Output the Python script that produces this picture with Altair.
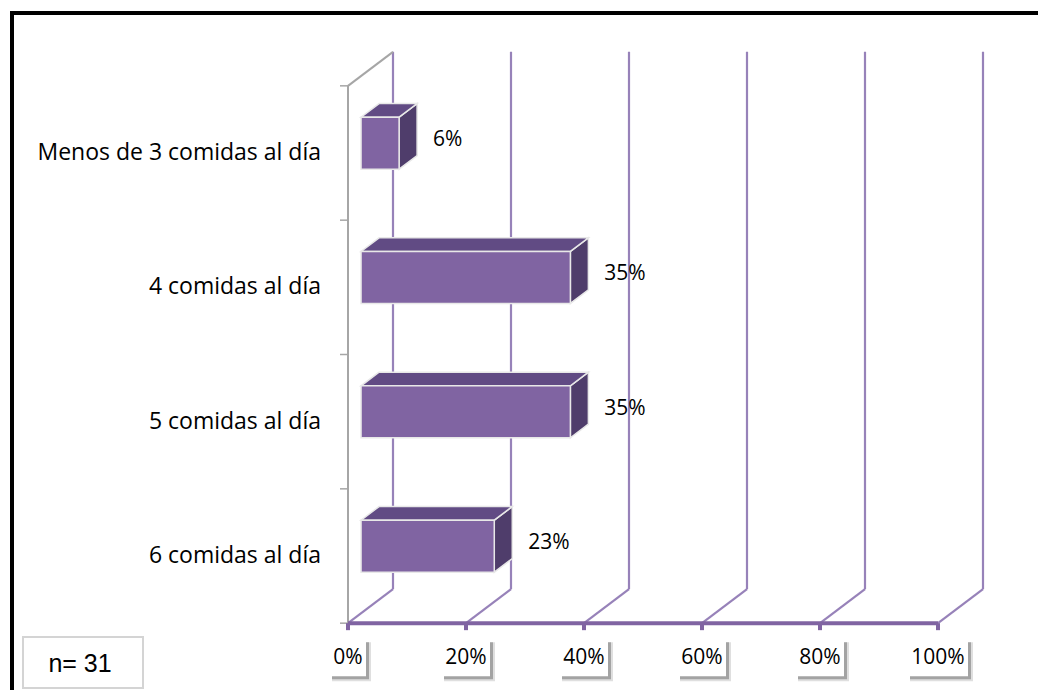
import altair as alt
import pandas as pd

# ---------------- data ----------------
categories = ["Menos de 3 comidas al día", "4 comidas al día", "5 comidas al día", "6 comidas al día"]
values = [6.45, 35.48, 35.48, 22.58]          # percent (2/31, 11/31, 11/31, 7/31)
tick_values = [0, 20, 40, 60, 80, 100]
tick_labels = ["0%", "20%", "40%", "60%", "80%", "100%"]
note_text = "n= 31"

# ---------------- geometry (layout, not data) ----------------
W, H = 1038, 690
X_RANGE = [348, 938]
Y_RANGE = [153, 556]
px_x = (X_RANGE[1] - X_RANGE[0]) / 100.0
px_y = (Y_RANGE[1] - Y_RANGE[0]) / 3.0
DEPTH_X = 45 / px_x          # full depth shift in data units (x)
DEPTH_Y = 34 / px_y          # full depth shift in data units (y index)
D0, D1 = 0.29, 0.69          # bar depth span (fraction of full depth)
HB = 26 / px_y               # half bar height in index units
Y_TOP, Y_BOT = -0.5, 3.5

xs = alt.Scale(domain=[0, 100], range=X_RANGE, nice=False, zero=False)
ys = alt.Scale(domain=[0, 3], range=Y_RANGE, nice=False, zero=False)

PURPLE = "#8064a2"
GRID = "#9782b9"
TOPC = "#614b84"
SIDEC = "#4f3d6b"
WALL = "#a6a6a6"
FONT = "Open Sans"

def X(f, **kw):
    return alt.X(f, type="quantitative", scale=xs, axis=None, **kw)

def Y(f, **kw):
    return alt.Y(f, type="quantitative", scale=ys, axis=None, **kw)

# ---------------- tables ----------------
bars = pd.DataFrame({"cat": categories, "value": values})
bars["idx"] = range(len(bars))
bars["label"] = [f"{round(v)}%" for v in values]
bars["fx0"] = D0 * DEPTH_X
bars["fx1"] = bars["value"] + D0 * DEPTH_X
bars["fyt"] = bars["idx"] - HB - D0 * DEPTH_Y
bars["fyb"] = bars["idx"] + HB - D0 * DEPTH_Y
bars["lx"] = bars["value"] + DEPTH_X
bars["ly"] = bars["idx"]

top_rows, side_rows = [], []
for i, v in enumerate(values):
    for d in (D0, D1):
        top_rows.append({"bar": i, "y": i - HB - d * DEPTH_Y, "xa": d * DEPTH_X, "xb": v + d * DEPTH_X})
        side_rows.append({"bar": i, "x": v + d * DEPTH_X, "ya": i - HB - d * DEPTH_Y, "yb": i + HB - d * DEPTH_Y})
top_df = pd.DataFrame(top_rows)
side_df = pd.DataFrame(side_rows)

ticks = pd.DataFrame({"t": tick_values, "lab": tick_labels})
ticks["bx"] = ticks["t"] + DEPTH_X
ticks["fy"] = Y_BOT
ticks["by1"] = Y_BOT - DEPTH_Y
ticks["by2"] = Y_TOP - DEPTH_Y

wall_ticks = pd.DataFrame({"y": [Y_TOP + k for k in range(5)]})
wall_ticks["x"] = 0.0

base_bars = alt.Chart(bars)
base_ticks = alt.Chart(ticks)

layers = []

# back wall gridlines
layers.append(base_ticks.mark_rule(color=GRID, strokeWidth=2.2).encode(
    x=X("bx"), y=Y("by1"), y2="by2"))
# floor diagonals
layers.append(base_ticks.mark_rule(color=GRID, strokeWidth=2.2).encode(
    x=X("t"), x2="bx", y=Y("fy"), y2="by1"))

# left wall
wall = pd.DataFrame({"x0": [0.0], "x1": [DEPTH_X], "y0": [Y_TOP], "y1": [Y_BOT], "y2": [Y_TOP - DEPTH_Y]})
layers.append(alt.Chart(wall).mark_rule(color=WALL, strokeWidth=2).encode(
    x=X("x0"), y=Y("y0"), y2="y1"))
layers.append(alt.Chart(wall).mark_rule(color=WALL, strokeWidth=2).encode(
    x=X("x0"), x2="x1", y=Y("y0"), y2="y2"))
layers.append(alt.Chart(wall_ticks).mark_rule(color=WALL, strokeWidth=1.5, xOffset=-8).encode(
    x=X("x"), x2="x", y=Y("y")))

# front axis
layers.append(base_ticks.mark_rule(color=PURPLE, strokeWidth=4, y2Offset=7).encode(
    x=X("t"), y=Y("fy"), y2="fy"))
axis_line = pd.DataFrame({"a": [0.0], "b": [100.0], "y": [Y_BOT]})
layers.append(alt.Chart(axis_line).mark_rule(color=PURPLE, strokeWidth=4).encode(
    x=X("a"), x2="b", y=Y("y")))

# tick label boxes with shadows
for t, lab in zip(tick_values, tick_labels):
    w = 12 + 12 * len(lab)
    sub = base_ticks.transform_filter(alt.datum.t == t)
    layers.append(sub.mark_rect(color="#7f7f7f", opacity=0.25,
                                xOffset=-w / 2 + 2, x2Offset=w / 2 + 5, yOffset=19, y2Offset=58).encode(
        x=X("t"), x2="t", y=Y("fy"), y2="fy"))
    layers.append(sub.mark_rect(color="#5a5a5a", opacity=0.45,
                                xOffset=-w / 2 + 2, x2Offset=w / 2 + 3, yOffset=19, y2Offset=56).encode(
        x=X("t"), x2="t", y=Y("fy"), y2="fy"))
    layers.append(sub.mark_rect(color="white",
                                xOffset=-w / 2, x2Offset=w / 2, yOffset=16, y2Offset=53).encode(
        x=X("t"), x2="t", y=Y("fy"), y2="fy"))
layers.append(base_ticks.mark_text(font=FONT, fontSize=21, color="black", dy=35, baseline="middle").encode(
    x=X("t"), y=Y("fy"), text="lab:N"))

# bars: side, top, front faces
layers.append(alt.Chart(side_df).mark_area(orient="vertical", color=SIDEC, stroke="#e8e8e8", strokeWidth=1.5).encode(
    x=X("x"), y=Y("ya"), y2="yb", detail="bar:N"))
layers.append(alt.Chart(top_df).mark_area(orient="horizontal", color=TOPC, stroke="#e8e8e8", strokeWidth=1.5).encode(
    y=Y("y"), x=X("xa"), x2="xb", detail="bar:N"))
layers.append(base_bars.mark_rect(color=PURPLE, stroke="#e8e8e8", strokeWidth=1.5).encode(
    x=X("fx0"), x2="fx1", y=Y("fyt"), y2="fyb"))

# value labels
layers.append(base_bars.mark_text(font=FONT, fontSize=21, color="black", align="left", baseline="middle", dx=2, dy=-13).encode(
    x=X("lx"), y=Y("ly"), text="label:N"))

# category labels
layers.append(base_bars.mark_text(font=FONT, fontSize=23, color="black", align="right", baseline="middle").encode(
    x=alt.value(321), y=Y("idx"), text="cat:N"))

# outer border (top & left)
layers.append(alt.Chart(pd.DataFrame({"k": [0]})).mark_rule(color="black", strokeWidth=4).encode(
    x=alt.value(10), x2=alt.value(W), y=alt.value(13)))
layers.append(alt.Chart(pd.DataFrame({"k": [0]})).mark_rule(color="black", strokeWidth=4).encode(
    x=alt.value(12), y=alt.value(11), y2=alt.value(H)))

# n= note box
layers.append(alt.Chart(pd.DataFrame({"k": [0]})).mark_rect(fill="white", stroke="#d4d4d4", strokeWidth=2).encode(
    x=alt.value(23), x2=alt.value(143), y=alt.value(637), y2=alt.value(688)))
layers.append(alt.Chart(pd.DataFrame({"t": [note_text]})).mark_text(
    font="Liberation Sans", fontSize=25, color="black", align="center", baseline="middle").encode(
    x=alt.value(80), y=alt.value(664), text="t:N"))

chart = alt.layer(*layers).properties(
    width=W, height=H, padding=0, autosize=alt.AutoSizeParams(type="none"), background="white"
).configure_view(stroke=None)

chart.save("out.html", embed_options={"renderer": "svg", "actions": False})
